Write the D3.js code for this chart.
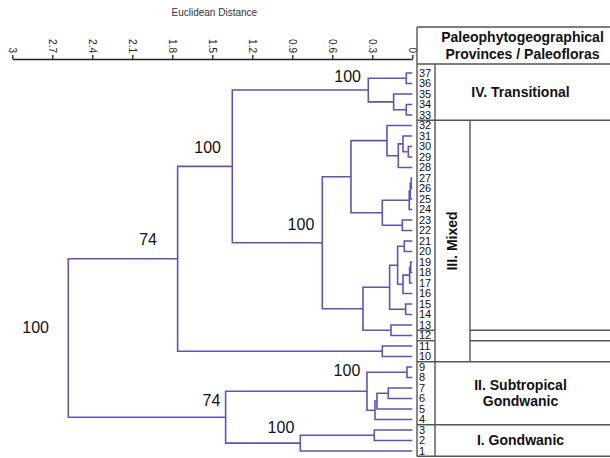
<!DOCTYPE html>
<html>
<head>
<meta charset="utf-8">
<script src="https://cdn.jsdelivr.net/npm/d3@7/dist/d3.min.js"></script>
<style>
  html, body { margin: 0; padding: 0; background: #fff; }
  svg { display: block; font-family: "Liberation Sans", Arial, sans-serif; }
</style>
</head>
<body>
<svg id="chart" width="610" height="458"></svg>
<script>
// ---- data -------------------------------------------------------------
// Leaf numbers (localities), drawn bottom (1) to top (37)
const leaves = d3.range(1, 38);

// Agglomeration steps: [node id, child A, child B, Euclidean distance]
const merges = [
  ["t1", "37", "36", 0.045],
  ["t2", "34", "33", 0.045],
  ["t3", "35", "t2", 0.14],
  ["T",  "t1", "t3", 0.33],
  ["m1", "30", "29", 0.03],
  ["m2", "31", "m1", 0.07],
  ["m3", "m2", "28", 0.105],
  ["m4", "32", "m3", 0.19],
  ["m5", "27", "26", 0.008],
  ["m6", "m5", "25", 0.015],
  ["m7", "m6", "24", 0.023],
  ["m8", "23", "22", 0.075],
  ["m9", "m7", "m8", 0.225],
  ["m10", "m4", "m9", 0.46],
  ["m11", "21", "20", 0.06],
  ["m12", "19", "18", 0.012],
  ["m13", "m12", "17", 0.02],
  ["m14", "m13", "16", 0.07],
  ["m15", "m11", "m14", 0.11],
  ["m16", "15", "14", 0.05],
  ["m17", "m15", "m16", 0.17],
  ["m18", "13", "12", 0.16],
  ["m19", "m17", "m18", 0.37],
  ["M",  "m10", "m19", 0.675],
  ["c1", "T", "M", 1.35],
  ["c2", "11", "10", 0.225],
  ["c3", "c1", "c2", 1.76],
  ["s1", "9", "8", 0.04],
  ["s2", "7", "6", 0.18],
  ["s3", "s2", "5", 0.265],
  ["s4", "s3", "4", 0.28],
  ["S",  "s1", "s4", 0.34],
  ["g1", "3", "2", 0.285],
  ["G",  "g1", "1", 0.84],
  ["c4", "S", "G", 1.40],
  ["root", "c3", "c4", 2.58]
];

// Bootstrap support values: text, distance at label's right edge, row (leaf units) of baseline
const bootText = ["100", "100", "74", "100", "74", "100", "100", "100"];
const bootDist = [0.385, 1.435, 1.915, 2.725, 1.44, 0.735, 0.39, 0.885];
const bootRow  = [36.14, 29.4, 20.66, 12.2, 5.27, 22.08, 8.12, 2.71];

// Axis ticks
const tickValues = [0, 0.3, 0.6, 0.9, 1.2, 1.5, 1.8, 2.1, 2.4, 2.7, 3];
const axisTitle = "Euclidean Distance";

// Province table
const headerLines = ["Paleophytogeographical", "Provinces / Paleofloras"];
const provinceNames = [["IV. Transitional"], ["III. Mixed"], ["II. Subtropical", "Gondwanic"], ["I. Gondwanic"]];
const provinceFrom = [33, 10, 4, 1];
const provinceTo   = [37, 32, 9, 3];
const mixedBreaks  = [12.5, 11.5];

// ---- layout -----------------------------------------------------------
const svg = d3.select("#chart");
const lineColor = "#5a56b4";
const tableColor = "#555";

const x = d3.scaleLinear().domain([3, 0]).range([12.3, 412.3]);
const y = d3.scaleLinear().domain([1, 37]).range([451, 73]);

const axisY = 59;
const tableLeft = 417, numRight = 435, mixedRight = 470, tableRight = 610;
const headerTop = 27, headerBottom = 64;

// ---- axis -------------------------------------------------------------
const axisG = svg.append("g")
  .attr("transform", `translate(0,${axisY})`)
  .call(d3.axisTop(x)
    .tickValues(tickValues)
    .tickSize(4)
    .tickSizeOuter(0)
    .tickFormat(d => String(+d.toFixed(1))));
axisG.select(".domain").attr("stroke", "#222").attr("stroke-width", 1.3);
axisG.selectAll(".tick line").attr("stroke", "#222").attr("stroke-width", 1.3);
axisG.selectAll(".tick text")
  .attr("transform", "rotate(90)")
  .attr("x", -6)
  .attr("y", 0)
  .attr("dy", "0.35em")
  .attr("text-anchor", "end")
  .attr("font-size", 10)
  .attr("font-family", "Liberation Sans, Arial, sans-serif")
  .attr("fill", "#222");

svg.append("text")
  .attr("x", (x(3) + x(0)) / 2 + 2)
  .attr("y", 16)
  .attr("text-anchor", "middle")
  .attr("font-size", 10)
  .attr("fill", "#333")
  .text(axisTitle);

// ---- dendrogram -------------------------------------------------------
const nodes = new Map();
leaves.forEach(l => nodes.set(String(l), { name: String(l), h: 0, leaf: l }));
merges.forEach(([id, a, b, h]) => {
  nodes.set(id, { name: id, h: h, children: [nodes.get(a), nodes.get(b)] });
});
const root = d3.hierarchy(nodes.get("root"));
root.eachAfter(n => {
  n.px = x(n.data.h);
  n.py = n.children ? d3.mean(n.children, c => c.py) : y(n.data.leaf);
});

svg.append("g")
  .attr("fill", "none")
  .attr("stroke", lineColor)
  .attr("stroke-width", 1.6)
  .selectAll("path")
  .data(root.descendants().filter(n => n.children))
  .join("path")
  .attr("d", n => {
    const [a, b] = n.children;
    return `M${a.px},${a.py}H${n.px}V${b.py}H${b.px}`;
  });

svg.append("g")
  .selectAll("text")
  .data(bootText)
  .join("text")
  .attr("x", (d, i) => x(bootDist[i]))
  .attr("y", (d, i) => y(bootRow[i]))
  .attr("text-anchor", "end")
  .attr("font-size", 16)
  .attr("fill", "#111")
  .text(d => d);

// ---- table ------------------------------------------------------------
const table = svg.append("g")
  .attr("stroke", tableColor)
  .attr("stroke-width", 1.4)
  .attr("fill", "none");

const hline = (yy, x1, x2) => table.append("line").attr("x1", x1).attr("x2", x2).attr("y1", yy).attr("y2", yy);
const vline = (xx, y1, y2) => table.append("line").attr("x1", xx).attr("x2", xx).attr("y1", y1).attr("y2", y2);

const bottomY = y(0.5);
hline(headerTop, tableLeft, tableRight);
hline(headerBottom, tableLeft, tableRight);
vline(tableLeft, headerTop, bottomY);
vline(numRight, headerBottom, bottomY);
provinceFrom.forEach(f => hline(y(f - 0.5), tableLeft, tableRight));
const mixIdx = 1;
vline(mixedRight, y(provinceTo[mixIdx] + 0.5), y(provinceFrom[mixIdx] - 0.5));
mixedBreaks.forEach(b => {
  hline(y(b), tableLeft, numRight);
  hline(y(b), mixedRight, tableRight);
});

// leaf numbers
svg.append("g")
  .selectAll("text")
  .data(leaves)
  .join("text")
  .attr("x", tableLeft + 2)
  .attr("y", d => y(d))
  .attr("dy", "0.36em")
  .attr("font-size", 11)
  .attr("fill", "#111")
  .text(d => d);

// header
const colCenter = (numRight + tableRight) / 2;
svg.append("g")
  .selectAll("text")
  .data(headerLines)
  .join("text")
  .attr("x", colCenter)
  .attr("y", (d, i) => (headerTop + headerBottom) / 2 - 8 + i * 17)
  .attr("dy", "0.35em")
  .attr("text-anchor", "middle")
  .attr("font-size", 14)
  .attr("font-weight", "bold")
  .attr("fill", "#111")
  .text(d => d);

// province names
provinceNames.forEach((lines, i) => {
  const top = i === 0 ? headerBottom : y(provinceTo[i] + 0.5);
  const bot = y(provinceFrom[i] - 0.5);
  const cy = (top + bot) / 2;
  if (i === mixIdx) {
    const cx = (numRight + mixedRight) / 2;
    svg.append("text")
      .attr("transform", `translate(${cx},${cy}) rotate(-90)`)
      .attr("dy", "0.35em")
      .attr("text-anchor", "middle")
      .attr("font-size", 14)
      .attr("font-weight", "bold")
      .attr("fill", "#111")
      .text(lines[0]);
  } else {
    svg.append("g")
      .selectAll("text")
      .data(lines)
      .join("text")
      .attr("x", colCenter - 2)
      .attr("y", (d, j) => cy + (j - (lines.length - 1) / 2) * 16)
      .attr("dy", "0.35em")
      .attr("text-anchor", "middle")
      .attr("font-size", 14)
      .attr("font-weight", "bold")
      .attr("fill", "#111")
      .text(d => d);
  }
});
</script>
</body>
</html>
